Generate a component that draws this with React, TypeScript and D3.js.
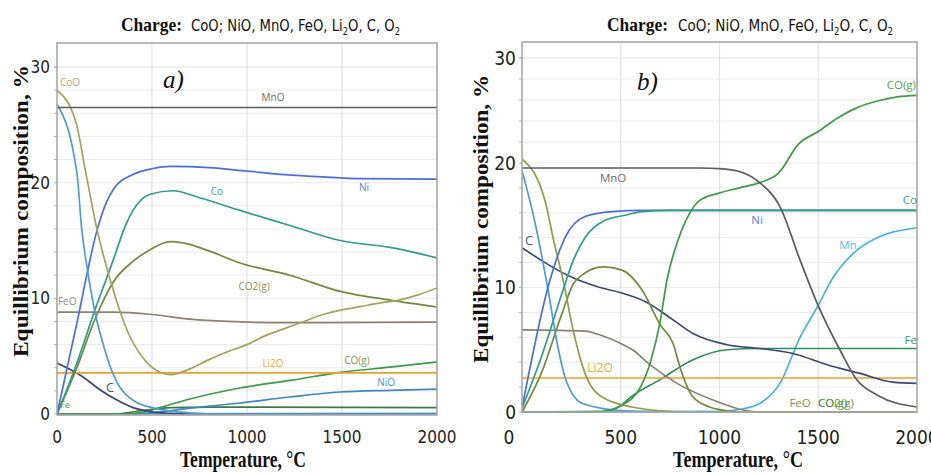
import React from "react";
import * as d3 from "d3";

type Pt = [number, number];

// ---------- shared axis values ----------
const temperatureTicks = [0, 500, 1000, 1500, 2000];
const compositionTicks = [0, 10, 20, 30];
const minorCompositionTicks = [2, 4, 6, 8, 12, 14, 16, 18, 22, 24, 26, 28, 30];

// ---------- panel a) data (T °C, %) ----------
const aMnO: Pt[] = [[0, 26.5], [2000, 26.5]];
const aCoO: Pt[] = [[0, 28], [100, 25.2], [150, 21], [210, 16], [280, 11.6], [370, 7.2], [450, 4.9], [520, 3.8], [600, 3.4], [700, 3.9], [800, 4.7], [900, 5.4], [1000, 6.0], [1100, 6.8], [1200, 7.4], [1300, 8.0], [1400, 8.6], [1500, 9.0], [1600, 9.3], [1700, 9.6], [1800, 9.85], [1900, 10.3], [2000, 10.9]];
const aNiO: Pt[] = [[0, 26.8], [105, 20.8], [130, 16], [160, 12.5], [200, 8.8], [240, 6.2], [280, 4.1], [320, 2.6], [350, 1.9], [420, 1.0], [500, 0.55], [600, 0.25], [700, 0.1], [800, 0], [2000, 0]];
const aNi: Pt[] = [[0, 0], [100, 7.5], [216, 16.2], [260, 18.3], [300, 19.5], [400, 20.7], [500, 21.2], [600, 21.4], [800, 21.3], [1000, 21.0], [1200, 20.7], [1400, 20.5], [1600, 20.35], [2000, 20.3]];
const aCo: Pt[] = [[0, 0], [100, 4.2], [200, 9.0], [300, 13.5], [358, 16.2], [400, 17.6], [490, 19.0], [610, 19.3], [750, 18.7], [963, 17.6], [1226, 16.3], [1490, 15.0], [1753, 14.4], [2000, 13.5]];
const aCO2g: Pt[] = [[0, 0], [100, 3.8], [200, 8.2], [300, 11.5], [400, 13.2], [490, 14.2], [595, 14.9], [663, 14.8], [800, 14.1], [963, 13.05], [1226, 12.0], [1490, 10.6], [1753, 9.85], [2000, 9.25]];
const aFeO: Pt[] = [[0, 8.8], [300, 8.8], [500, 8.6], [700, 8.2], [900, 8.0], [1200, 7.9], [2000, 7.95]];
const aLi2O: Pt[] = [[0, 3.55], [2000, 3.55]];
const aC: Pt[] = [[0, 4.4], [137, 3.2], [226, 2.1], [316, 1.2], [400, 0.55], [490, 0.2], [600, 0.05], [700, 0], [2000, 0]];
const aCOg: Pt[] = [[0, 0], [350, 0], [450, 0.15], [550, 0.6], [700, 1.3], [963, 2.25], [1226, 2.9], [1490, 3.6], [1753, 4.05], [2000, 4.5]];
const aNiOLate: Pt[] = [[0, 0], [400, 0], [500, 0.1], [700, 0.5], [963, 0.95], [1226, 1.47], [1490, 1.9], [1753, 2.05], [2000, 2.15]];
const aFe: Pt[] = [[0, 0], [300, 0], [450, 0.3], [600, 0.55], [800, 0.6], [2000, 0.55]];
const aMn: Pt[] = [[0, 0], [2000, 0.05]];

// ---------- panel b) data (T °C, %) ----------
const bMnO: Pt[] = [[0, 19.6], [900, 19.6], [1000, 19.55], [1104, 19.3], [1205, 18.4], [1306, 16.5], [1408, 12.2], [1494, 8.75], [1610, 4.98], [1696, 2.57], [1797, 1.37], [2000, 0.4]];
const bCOg: Pt[] = [[0, 0], [400, 0.05], [500, 0.5], [600, 2.0], [650, 4.0], [700, 7.3], [734, 10.6], [790, 13.8], [850, 16.0], [900, 17.0], [1000, 17.6], [1100, 18.0], [1200, 18.4], [1300, 19.2], [1400, 21.8], [1500, 23.0], [1600, 24.3], [1700, 25.3], [1800, 25.9], [1900, 26.3], [2000, 26.45]];
const bCoO: Pt[] = [[0, 20.4], [116, 17.0], [160, 13.8], [208, 10.6], [260, 6.5], [319, 3.1], [405, 1.2], [557, 0.4], [700, 0.1], [800, 0], [2000, 0]];
const bNiO: Pt[] = [[0, 19.4], [66, 15.2], [132, 9.8], [182, 5.2], [218, 2.8], [304, 0.7], [471, 0.15], [600, 0.05], [1000, 0], [2000, 0]];
const bNi: Pt[] = [[0, 0.3], [140, 10.5], [218, 14.0], [319, 15.7], [456, 16.1], [608, 16.2], [2000, 16.2]];
const bCo: Pt[] = [[0, 0.3], [100, 4.5], [208, 9.8], [260, 12.2], [319, 14.0], [420, 15.4], [522, 15.8], [608, 16.1], [750, 16.2], [2000, 16.2]];
const bC: Pt[] = [[0, 13.2], [106, 12.1], [228, 11.0], [395, 10.0], [496, 9.6], [633, 8.8], [765, 7.4], [866, 6.3], [1038, 5.4], [1205, 5.1], [1372, 4.7], [1544, 3.8], [1711, 3.1], [1878, 2.4], [2000, 2.3]];
const bFeO: Pt[] = [[0, 6.6], [320, 6.5], [410, 6.1], [500, 5.5], [560, 5.0], [640, 3.9], [785, 2.3], [967, 0.96], [1119, 0.16], [1200, 0], [2000, 0]];
const bLi2O: Pt[] = [[0, 2.73], [2000, 2.73]];
const bFe: Pt[] = [[0, 0], [400, 0], [500, 0.5], [532, 0.96], [699, 2.6], [866, 4.2], [1038, 5.0], [1200, 5.1], [2000, 5.1]];
const bMn: Pt[] = [[0, 0], [1000, 0.05], [1100, 0.2], [1205, 0.7], [1306, 2.3], [1408, 6.0], [1494, 8.4], [1575, 10.8], [1696, 13.0], [1812, 14.1], [2000, 14.8]];
const bCO2g: Pt[] = [[0, 0], [100, 3.2], [200, 7.8], [260, 10.3], [304, 11.0], [410, 11.65], [506, 11.4], [608, 9.8], [700, 7.0], [765, 5.5], [800, 3.6], [866, 1.2], [950, 0.4], [1038, 0.1], [1100, 0], [2000, 0]];

// ---------- styles ----------
const C = {
  mno: "#5b5b5b",
  coo: "#a3a35c",
  cooB: "#8f9e4a",
  nio: "#4f9ccf",
  ni: "#4b6fd6",
  co: "#2f9c8c",
  co2: "#74893f",
  feo: "#8c8272",
  li2o: "#eba02a",
  c: "#3c4775",
  cog: "#3f9a45",
  nioLate: "#3f86c4",
  fe: "#2f8f5a",
  feA: "#3a7a4a",
  mn: "#48b0e6",
};

interface SeriesDef { data: Pt[]; color: string }
interface LabelDef { text: string; T: number; v: number; color: string; anchor?: string; size?: number }

const seriesA: SeriesDef[] = [
  { data: aMn, color: C.mn },
  { data: aFe, color: C.feA },
  { data: aNiOLate, color: C.nioLate },
  { data: aCOg, color: C.cog },
  { data: aC, color: C.c },
  { data: aLi2O, color: C.li2o },
  { data: aFeO, color: C.feo },
  { data: aCO2g, color: C.co2 },
  { data: aCo, color: C.co },
  { data: aNi, color: C.ni },
  { data: aNiO, color: C.nio },
  { data: aCoO, color: C.coo },
  { data: aMnO, color: C.mno },
];

const seriesB: SeriesDef[] = [
  { data: bMn, color: C.mn },
  { data: bFe, color: C.fe },
  { data: bLi2O, color: C.li2o },
  { data: bFeO, color: C.feo },
  { data: bC, color: C.c },
  { data: bCO2g, color: C.co2 },
  { data: bNiO, color: C.nio },
  { data: bCoO, color: C.cooB },
  { data: bNi, color: C.ni },
  { data: bCo, color: C.co },
  { data: bCOg, color: C.cog },
  { data: bMnO, color: C.mno },
];

const labelsA: LabelDef[] = [
  { text: "CoO", T: 16, v: 28.4, color: C.coo, anchor: "start" },
  { text: "MnO", T: 1137, v: 27.1, color: C.mno },
  { text: "Co", T: 842, v: 18.9, color: C.co },
  { text: "Ni", T: 1616, v: 19.3, color: C.ni },
  { text: "CO2(g)", T: 1037, v: 10.7, color: C.co2 },
  { text: "FeO", T: 5, v: 9.4, color: C.feo, anchor: "start" },
  { text: "Li2O", T: 1137, v: 4.06, color: C.li2o },
  { text: "CO(g)", T: 1579, v: 4.3, color: C.co2 },
  { text: "NiO", T: 1732, v: 2.4, color: C.nioLate },
  { text: "C", T: 279, v: 1.9, color: C.c, size: 13 },
  { text: "Fe", T: 16, v: 0.5, color: C.cog, anchor: "start", size: 9 },
];

const labelsB: LabelDef[] = [
  { text: "MnO", T: 461, v: 18.5, color: C.mno, size: 11.5 },
  { text: "CO(g)", T: 1995, v: 27.05, color: C.cog, anchor: "end", size: 11.5 },
  { text: "Co", T: 2000, v: 16.7, color: C.co, anchor: "end", size: 11.5 },
  { text: "Ni", T: 1190, v: 15.1, color: C.ni, size: 11.5 },
  { text: "C", T: 15, v: 13.4, color: C.c, anchor: "start", size: 13 },
  { text: "Mn", T: 1651, v: 13.1, color: C.mn, size: 11.5 },
  { text: "Fe", T: 2000, v: 5.46, color: C.fe, anchor: "end", size: 11.5 },
  { text: "Li2O", T: 395, v: 3.2, color: C.li2o, size: 12 },
  { text: "FeO", T: 1408, v: 0.4, color: C.co2, size: 11.5 },
  { text: "CO2(g)", T: 1499, v: 0.4, color: C.co2, anchor: "start", size: 11.5 },
  { text: "CO(g)", T: 1499, v: 0.4, color: C.cog, anchor: "start", size: 11.5 },
];

interface PanelCfg {
  x0: number; x1: number;
  yDomain: number[]; yRange: number[];
  top: number; bottom: number;
  series: SeriesDef[];
  labels: LabelDef[];
  tickFont: number; yTickRight: number; xTickBase: number; xZeroShift: number;
  titleLeft: number; titleRest: number; titleRestW: number; titleBase: number;
  letter: string; letterX: number; letterY: number;
  yTitleX: number; yTitleY: number; yTitleLen: number;
  xTitleX: number; xTitleY: number; xTitleLen: number;
  clipId: string;
}

const serif = "'Liberation Serif', 'Times New Roman', serif";
const sans = "'Liberation Sans Narrow', 'DejaVu Sans Condensed', 'Open Sans', sans-serif";
const labelFont = "'Open Sans', 'Noto Sans', sans-serif";

function Panel({ cfg }: { cfg: PanelCfg }) {
  const x = d3.scaleLinear().domain([0, 2000]).range([cfg.x0, cfg.x1]);
  const y = d3.scaleLinear().domain(cfg.yDomain).range(cfg.yRange);
  const line = d3
    .line<Pt>()
    .x((d) => x(d[0]))
    .y((d) => y(d[1]))
    .curve(d3.curveMonotoneX);
  const w = cfg.x1 - cfg.x0;
  const h = cfg.bottom - cfg.top;
  return (
    <g>
      <defs>
        <clipPath id={cfg.clipId}>
          <rect x={cfg.x0} y={cfg.top} width={w} height={h + 1} />
        </clipPath>
      </defs>
      {/* grid */}
      {minorCompositionTicks.concat(compositionTicks).map((t, i) =>
        y(t) > cfg.top && y(t) < cfg.bottom - 1 ? (
          <line key={"h" + i} x1={cfg.x0} x2={cfg.x1} y1={y(t)} y2={y(t)} stroke="#ececec" strokeWidth={1} />
        ) : null
      )}
      {temperatureTicks.slice(1, -1).map((t) => (
        <line key={"v" + t} x1={x(t)} x2={x(t)} y1={cfg.top} y2={cfg.bottom} stroke="#e2e2e2" strokeWidth={1.2} />
      ))}
      {/* minor ticks on y axis */}
      {minorCompositionTicks.concat(compositionTicks).map((t, i) =>
        y(t) > cfg.top && y(t) <= cfg.bottom ? (
          <line key={"mt" + i} x1={cfg.x0 - 3} x2={cfg.x0} y1={y(t)} y2={y(t)} stroke="#b0b0b0" strokeWidth={1} />
        ) : null
      )}
      {/* series */}
      <g clipPath={`url(#${cfg.clipId})`}>
        {cfg.series.map((s, i) => (
          <path key={i} d={line(s.data) || ""} fill="none" stroke={s.color} strokeWidth={1.7} strokeLinejoin="round" />
        ))}
      </g>
      {/* frame */}
      <rect x={cfg.x0} y={cfg.top} width={w} height={h} fill="none" stroke="#a8a8a8" strokeWidth={1.6} />
      {/* series labels */}
      {cfg.labels.map((l, i) => (
        <text
          key={i}
          x={x(l.T)}
          y={y(l.v)}
          fill={l.color}
          fontSize={l.size ?? 10}
          fontFamily={labelFont}
          textAnchor={(l.anchor as any) ?? "middle"}
          opacity={0.9}
        >
          {l.text}
        </text>
      ))}
      {/* tick labels */}
      {compositionTicks.map((t) => (
        <text key={"yt" + t} x={cfg.yTickRight} y={y(t)} dy="0.35em" textAnchor="end" fontSize={cfg.tickFont} fontFamily={sans} fill="#222">
          {t}
        </text>
      ))}
      {temperatureTicks.map((t) => (
        <text
          key={"xt" + t}
          x={x(t) + (t === 0 ? cfg.xZeroShift : 0)}
          y={cfg.xTickBase}
          textAnchor="middle"
          fontSize={cfg.tickFont}
          fontFamily={sans}
          fill="#222"
        >
          {t}
        </text>
      ))}
      {/* title */}
      <text
        x={cfg.titleLeft}
        y={cfg.titleBase}
        fontFamily={serif}
        fontWeight="bold"
        fontSize={19}
        fill="#111"
        textLength={61}
        lengthAdjust="spacingAndGlyphs"
      >
        Charge:
      </text>
      <text
        x={cfg.titleRest}
        y={cfg.titleBase}
        fontFamily={sans}
        fontSize={16}
        fill="#111"
        textLength={cfg.titleRestW}
        lengthAdjust="spacingAndGlyphs"
      >
        CoO; NiO, MnO, FeO, Li<tspan fontSize={10} dy={4}>2</tspan>
        <tspan dy={-4}>O, C, O</tspan>
        <tspan fontSize={10} dy={4}>2</tspan>
      </text>
      {/* panel letter */}
      <text x={cfg.letterX} y={cfg.letterY} fontFamily={serif} fontStyle="italic" fontSize={25} fill="#111">
        {cfg.letter}
      </text>
      {/* axis titles */}
      <text
        transform={`translate(${cfg.yTitleX},${cfg.yTitleY}) rotate(-90)`}
        textAnchor="middle"
        fontFamily={serif}
        fontWeight="bold"
        fontSize={21}
        fill="#111"
        textLength={cfg.yTitleLen}
        lengthAdjust="spacingAndGlyphs"
      >
        Equillibrium composition, %
      </text>
      <text
        x={cfg.xTitleX}
        y={cfg.xTitleY}
        textAnchor="middle"
        fontFamily={serif}
        fontWeight="bold"
        fontSize={24}
        fill="#111"
        textLength={cfg.xTitleLen}
        lengthAdjust="spacingAndGlyphs"
      >
        Temperature, °C
      </text>
    </g>
  );
}

const panelA: PanelCfg = {
  x0: 57, x1: 437,
  yDomain: [0, 30], yRange: [414, 67],
  top: 43, bottom: 415,
  series: seriesA, labels: labelsA,
  tickFont: 17, yTickRight: 50, xTickBase: 443, xZeroShift: 0,
  titleLeft: 121, titleRest: 191, titleRestW: 209, titleBase: 31,
  letter: "a)", letterX: 163, letterY: 88,
  yTitleX: 28, yTitleY: 211, yTitleLen: 292,
  xTitleX: 243, xTitleY: 467, xTitleLen: 126,
  clipId: "clipA",
};

const panelB: PanelCfg = {
  x0: 522, x1: 917,
  yDomain: [0, 20, 30], yRange: [412, 163, 58],
  top: 42, bottom: 412,
  series: seriesB, labels: labelsB,
  tickFont: 19, yTickRight: 516, xTickBase: 444, xZeroShift: -13,
  titleLeft: 607, titleRest: 678, titleRestW: 215, titleBase: 31,
  letter: "b)", letterX: 637, letterY: 90,
  yTitleX: 488, yTitleY: 219, yTitleLen: 288,
  xTitleX: 738, xTitleY: 467, xTitleLen: 130,
  clipId: "clipB",
};

export default function App() {
  return (
    <svg
      width={931}
      height={475}
      viewBox="0 0 931 475"
      style={{ position: "absolute", left: 0, top: 0, background: "#fff" }}
    >
      <rect x={0} y={0} width={931} height={475} fill="#fff" />
      <Panel cfg={panelA} />
      <Panel cfg={panelB} />
    </svg>
  );
}
